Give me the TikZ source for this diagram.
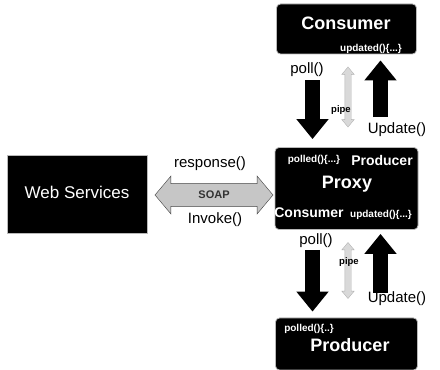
\documentclass[tikz,border=0pt]{standalone}
\usepackage{fontspec}
\setmainfont{Liberation Sans}
\usetikzlibrary{arrows.meta,shapes.arrows}

\begin{document}
\begin{tikzpicture}[
    x=1pt, y=1pt,
    box/.style={draw=gray!55, line width=0.8pt, fill=black, text=white, rounded corners=4pt},
    big/.style={text=white, font=\bfseries\fontsize{18}{20}\selectfont},
    mid/.style={text=white, font=\bfseries\fontsize{14}{16}\selectfont},
    small/.style={text=white, font=\bfseries\fontsize{10}{11}\selectfont},
    lbl/.style={font=\fontsize{15}{17}\selectfont},
    blk/.style={line width=15pt, line cap=butt, -{Triangle[length=20pt,width=31pt]}},
    pipearrow/.style={double arrow, rotate=90, draw=gray!60, fill=gray!30, minimum width=12pt,
        double arrow head extend=3pt, inner sep=3pt, double arrow tip angle=80}
]
    \useasboundingbox (0,0) rectangle (440,370);

    % boxes
    \node[box, minimum width=140pt, minimum height=50pt] (consumer) at (346.5,341) {};
    \node[box, minimum width=143pt, minimum height=82pt] (proxy) at (346.5,181.5) {};
    \node[box, minimum width=142pt, minimum height=52pt] (producer) at (346.5,26) {};
    \node[box, rounded corners=0pt, minimum width=140pt, minimum height=78pt] (web) at (77,176) {};

    % texts in the boxes
    \node[big] (consumertxt) at (346,347) {Consumer};
    \node[small] (consumerupd) at (371,321) {updated()\{...\}};
    \node[small] (proxypolled) at (314,210) {polled()\{...\}};
    \node[mid] (proxyprod) at (382,210) {Producer};
    \node[big] (proxytxt) at (347,186) {Proxy};
    \node[mid] (proxycons) at (309,157) {Consumer};
    \node[small] (proxyupd) at (381,155) {updated()\{...\}};
    \node[small] (prodpolled) at (309,41) {polled()\{..\}};
    \node[big] (producertxt) at (350,25) {Producer};
    \node[text=white, font=\fontsize{17}{19}\selectfont] (webtxt) at (77,178) {Web Services};

    % SOAP link
    \node[double arrow, draw=black!75, fill=gray!45, minimum height=118pt, minimum width=38pt,
        double arrow head extend=7pt, double arrow tip angle=100, inner sep=6.5pt,
        font=\bfseries\fontsize{11}{12}\selectfont, text=black!80] (soap) at (214,175) {SOAP};
    \node[lbl] (response) at (210,206) {response()};
    \node[lbl] (invoke) at (215,150) {Invoke()};

    % consumer <-> proxy
    \draw[blk] ([xshift=-34pt,yshift=-26pt]consumer.south) -- ([xshift=-34pt,yshift=8pt]proxy.north);
    \draw[blk] ([xshift=34pt,yshift=30pt]proxy.north) -- ([xshift=34pt,yshift=-6pt]consumer.south);
    \node[pipearrow, minimum height=60pt] (pipeup) at (348,273) {};
    \node[lbl] (pollup) at (307,300) {poll()};
    \node[text=black, font=\bfseries\fontsize{9.5}{11}\selectfont] (pipeuptxt) at (341,260) {pipe};
    \node[lbl] (updup) at (397,240) {Update()};

    % proxy <-> producer
    \draw[blk] ([xshift=-34pt,yshift=-20pt]proxy.south) -- ([xshift=-34pt,yshift=6pt]producer.north);
    \draw[blk] ([xshift=34pt,yshift=25pt]producer.north) -- ([xshift=34pt,yshift=-4pt]proxy.south);
    \node[pipearrow, minimum height=56pt] (pipedown) at (348,99.5) {};
    \node[lbl] (polldown) at (316,129) {poll()};
    \node[text=black, font=\bfseries\fontsize{9.5}{11}\selectfont] (pipedowntxt) at (349,108) {pipe};
    \node[lbl] (upddown) at (397,71) {Update()};
\end{tikzpicture}
\end{document}
